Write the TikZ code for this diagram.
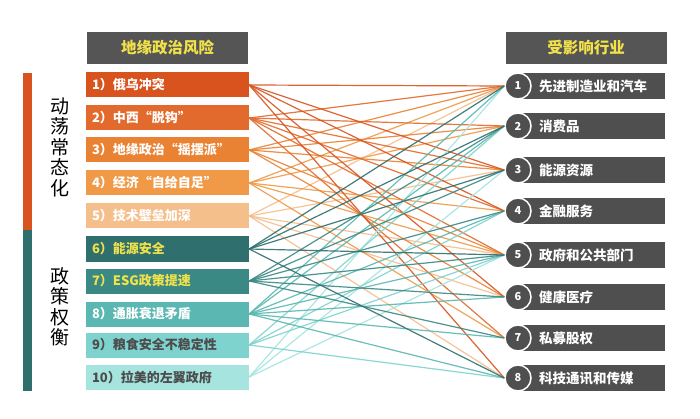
\documentclass[tikz,border=0pt]{standalone}
\usepackage{fontspec}
\newfontfamily\cjk{Noto Sans CJK SC}
\definecolor{riskA}{HTML}{D9531E}
\definecolor{riskB}{HTML}{E26A2C}
\definecolor{riskC}{HTML}{EA8234}
\definecolor{riskD}{HTML}{F09A48}
\definecolor{riskE}{HTML}{F5BF8C}
\definecolor{polA}{HTML}{2F6F6E}
\definecolor{polB}{HTML}{3A8985}
\definecolor{polC}{HTML}{5AB7B1}
\definecolor{polD}{HTML}{7ED3CE}
\definecolor{polE}{HTML}{A5E4DF}
\definecolor{headgray}{HTML}{555555}
\definecolor{boxgray}{HTML}{4F4F4F}
\definecolor{headyellow}{HTML}{F2E24A}
\tikzset{
  head/.style={fill=headgray, minimum width=161pt, minimum height=32pt,
    text=headyellow, font=\cjk\bfseries\fontsize{15.5}{16}\selectfont},
  risk/.style={minimum width=163pt, minimum height=25pt, text width=151pt,
    inner xsep=6pt, align=left, text=white, font=\cjk\bfseries\fontsize{13}{13}\selectfont},
  sector/.style={fill=boxgray, minimum height=26pt, text width=110pt,
    inner xsep=16pt, align=left, text=white, font=\cjk\bfseries\fontsize{13.5}{14}\selectfont},
  num/.style={circle, fill=boxgray, draw=white, line width=1.5pt, minimum size=26pt,
    inner sep=0pt, text=white, font=\cjk\bfseries\fontsize{11}{11}\selectfont},
  side/.style={align=center, font=\cjk\fontsize{19}{20.5}\selectfont}
}
\begin{document}
\begin{tikzpicture}[x=1pt,y=-1pt]
  \useasboundingbox[fill=white] (0,0) rectangle (700,419);

  % side bars and labels
  \fill[riskA] (23,73) rectangle (32,230);
  \fill[polA] (23,230) rectangle (32,391);
  \node[side] (dyn) at (60,147) {动\\荡\\常\\态\\化};
  \node[side] (pol) at (60,307) {政\\策\\权\\衡};

  % headers
  \node[head] (lhead) at (167.5,48) {地缘政治风险};
  \node[head] (rhead) at (586,48) {受影响行业};

  % risks
  \begin{scope}[every node/.style={risk}]
    \node[fill=riskA] (L1)  at (167.5,85)  {1）俄乌冲突};
    \node[fill=riskB] (L2)  at (167.5,118) {2）中西“脱钩”};
    \node[fill=riskC] (L3)  at (167.5,150) {3）地缘政治“摇摆派”};
    \node[fill=riskD] (L4)  at (167.5,183) {4）经济“自给自足”};
    \node[fill=riskE] (L5)  at (167.5,216) {5）技术壁垒加深};
    \node[fill=polA, text=headyellow] (L6)  at (167.5,249) {6）能源安全};
    \node[fill=polB, text=headyellow] (L7)  at (167.5,281) {7）ESG政策提速};
    \node[fill=polC] (L8)  at (167.5,314) {8）通胀衰退矛盾};
    \node[fill=polD, text=black!70] (L9)  at (167.5,345) {9）粮食安全不稳定性};
    \node[fill=polE, text=black!70] (L10) at (167.5,377) {10）拉美的左翼政府};
  \end{scope}

  % sectors
  \node[sector] (R1) at (594,86)  {先进制造业和汽车};
  \node[sector] (R2) at (594,126) {消费品};
  \node[sector] (R3) at (594,170) {能源资源};
  \node[sector] (R4) at (594,211) {金融服务};
  \node[sector] (R5) at (594,255) {政府和公共部门};
  \node[sector] (R6) at (594,297) {健康医疗};
  \node[sector] (R7) at (594,338) {私募股权};
  \node[sector] (R8) at (594,378) {科技通讯和传媒};
  \begin{scope}[every node/.style={num}]
    \node (C1) at (518,86)  {1};
    \node (C2) at (518,126) {2};
    \node (C3) at (518,170) {3};
    \node (C4) at (518,211) {4};
    \node (C5) at (518,255) {5};
    \node (C6) at (518,297) {6};
    \node (C7) at (518,338) {7};
    \node (C8) at (518,378) {8};
  \end{scope}

  % links
  \begin{scope}[line width=1.2pt, opacity=.9]
    \path[draw=riskE] (L5.east) edge (C1.west) edge (C3.west) edge (C5.west) edge (C6.west) edge (C8.west);
    \path[draw=riskD] (L4.east) edge (C1.west) edge (C2.west) edge (C4.west) edge (C5.west) edge (C7.west);
    \path[draw=riskC] (L3.east) edge (C1.west) edge (C2.west) edge (C3.west) edge (C5.west) edge (C6.west);
    \path[draw=riskB] (L2.east) edge (C1.west) edge (C2.west) edge (C3.west) edge (C4.west) edge (C5.west) edge (C7.west);
    \path[draw=riskA] (L1.east) edge (C1.west) edge (C3.west) edge (C4.west) edge (C6.west) edge (C8.west);
    \path[draw=polE] (L10.east) edge (C1.west) edge (C3.west) edge (C5.west);
    \path[draw=polD] (L9.east) edge (C2.west) edge (C4.west) edge (C5.west) edge (C8.west);
    \path[draw=polC] (L8.east) edge (C1.west) edge (C2.west) edge (C4.west) edge (C5.west) edge (C6.west) edge (C7.west) edge (C8.west);
    \path[draw=polB] (L7.east) edge (C2.west) edge (C3.west) edge (C4.west) edge (C5.west) edge (C6.west) edge (C7.west);
    \path[draw=polA] (L6.east) edge (C1.west) edge (C2.west) edge (C3.west) edge (C5.west) edge (C8.west);
  \end{scope}
\end{tikzpicture}
\end{document}
